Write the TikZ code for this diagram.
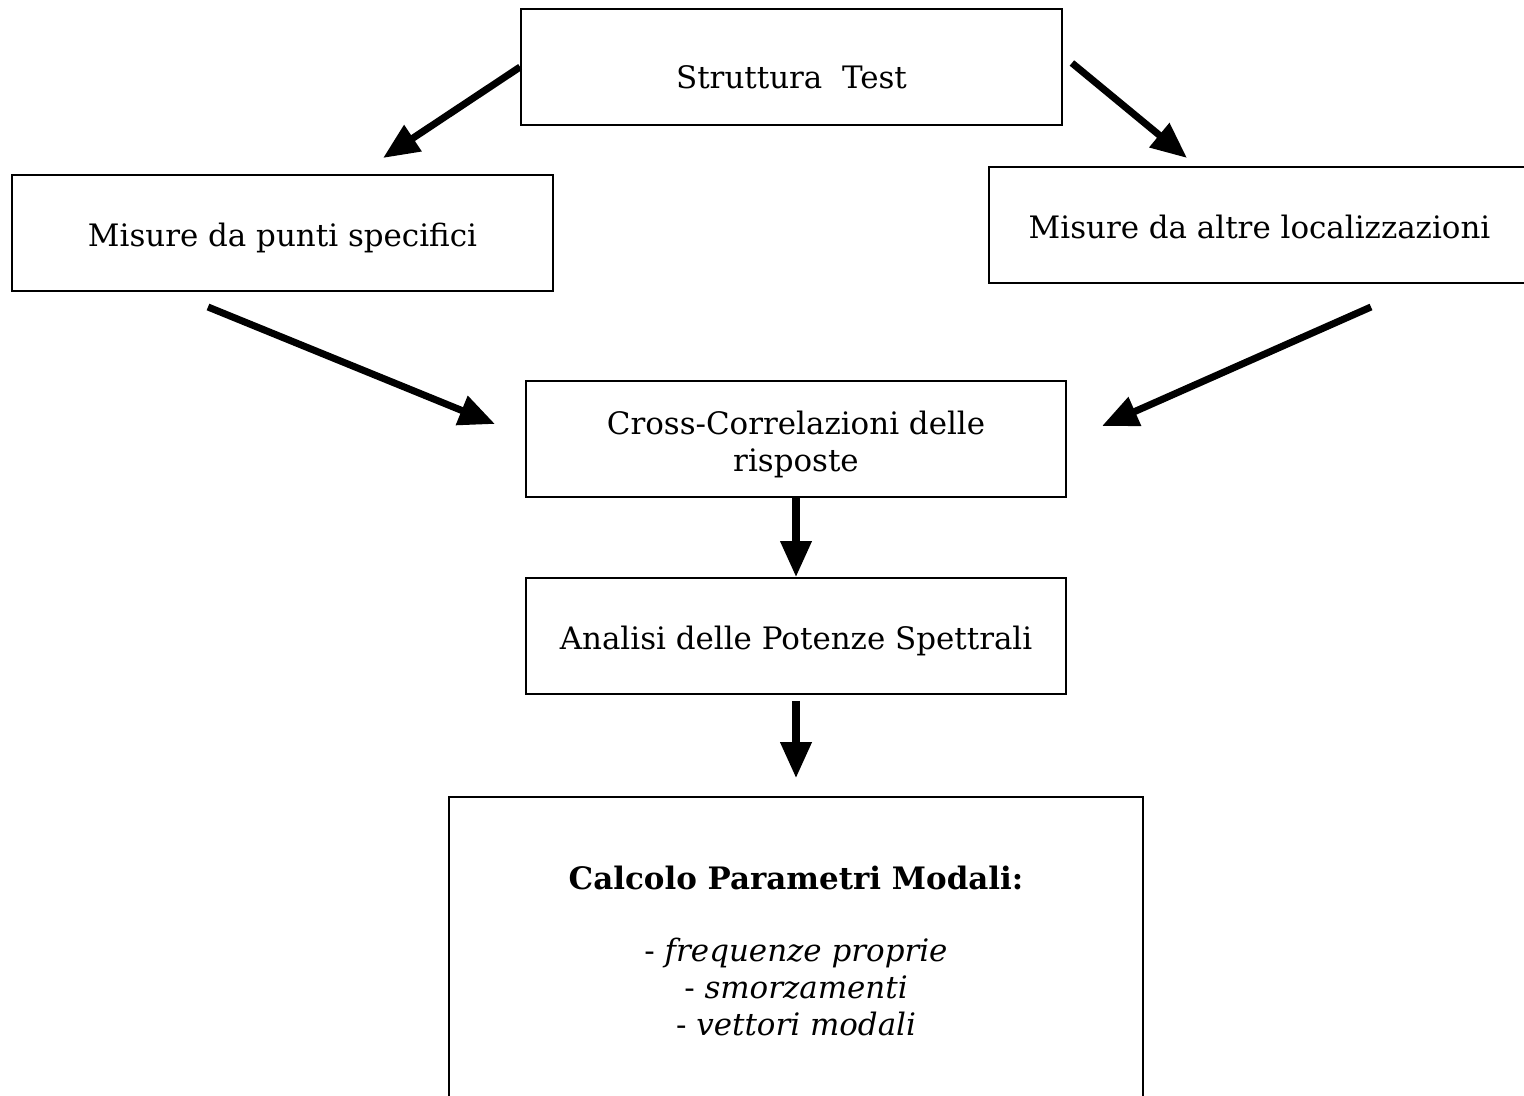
\documentclass[tikz,border=0pt]{standalone}
\usepackage{fontspec}
\setmainfont{DejaVu Serif}
\usepackage{tikz}
\usetikzlibrary{arrows.meta, positioning}

\begin{document}
\begin{tikzpicture}[x=0.02cm, y=-0.02cm,
    box/.style={rectangle, draw, line width=1.1pt, minimum width=10.82cm, minimum height=2.32cm, align=center, text height=0.66cm, font=\fontsize{17.6}{21}\selectfont},
    arrow/.style={line width=4pt, -{Triangle[length=0.72cm, width=0.6cm]}}]

    \useasboundingbox (0,0) rectangle (1524,1095);

    \node[box, text height=0.85cm] (test) at (791.5,67) {Struttura~ Test};
    \node[box] (punti) at (282.5,233) {Misure da punti specifici};
    \node[box, text height=0.55cm] (altre) at (1259.5,225) {Misure da altre localizzazioni};
    \node[box, text height=1.43cm] (cross) at (796,439) {Cross-Correlazioni delle\\ risposte};
    \node[box] (analisi) at (796,636) {Analisi delle Potenze Spettrali};
    \node[box, text height=, minimum width=13.88cm, minimum height=6.16cm] (calcolo) at (796,951)
        {\textbf{Calcolo Parametri Modali:}\\[20pt]
         - \textit{frequenze proprie}\\ - \textit{smorzamenti}\\ - \textit{vettori modali}};

    % free ends of the slanted arrows
    \coordinate (tipL) at (383,158);
    \coordinate (tipR) at (1187,158);
    \coordinate (fromL) at (208,307);
    \coordinate (fromR) at (1371,307);
    \coordinate (tipCL) at (495,424);
    \coordinate (tipCR) at (1102,426);

    \draw[arrow] (test.west) -- (tipL);
    \draw[arrow] ([xshift=0.18cm, yshift=0.08cm]test.east) -- (tipR);
    \draw[arrow] (fromL) -- (tipCL);
    \draw[arrow] (fromR) -- (tipCR);
    \draw[arrow] (cross) -- (analisi);
    \draw[arrow, shorten <=0.12cm, shorten >=0.36cm] (analisi) -- (calcolo);
\end{tikzpicture}
\end{document}
